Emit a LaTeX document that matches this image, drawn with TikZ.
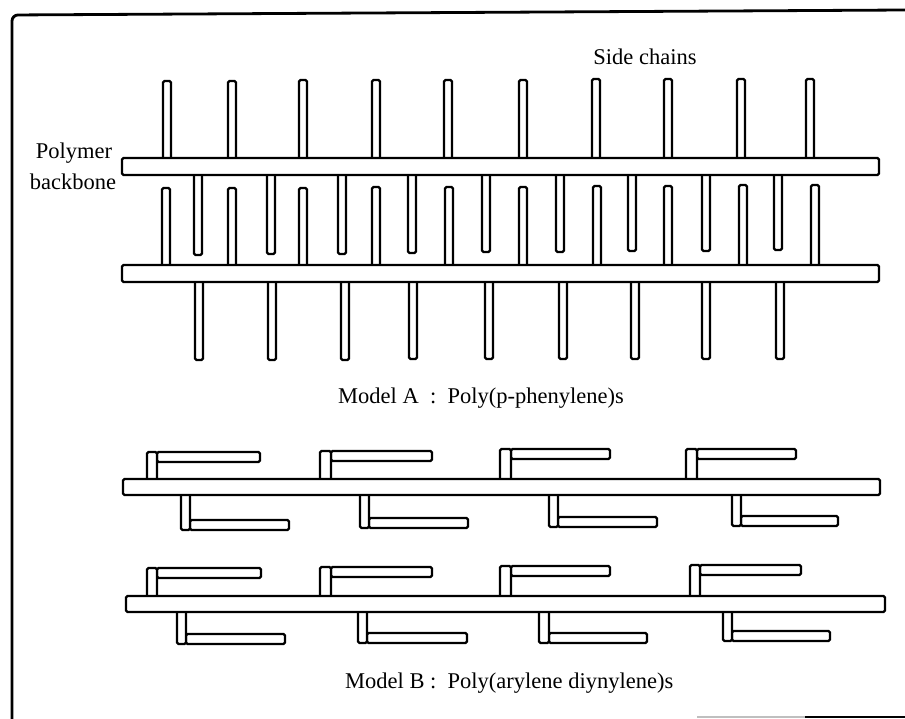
\documentclass[tikz,border=0pt]{standalone}
\usepackage{fontspec}
\setmainfont{Liberation Serif}
\usetikzlibrary{positioning}

\tikzset{
  backbone/.style={draw=black,fill=white,line width=2.4pt,rounded corners=1.5pt},
  sidechain/.style={draw=black,fill=white,line width=2.2pt,rounded corners=1.5pt},
  lbl/.style={font=\fontsize{22.5}{26}\selectfont,inner sep=0pt}
}

\begin{document}
\begin{tikzpicture}[x=1pt,y=-1pt]
\useasboundingbox (0,0) rectangle (905,719);
\draw[line width=2.8pt,rounded corners=6pt] (905,10) -- (12,15) -- (12,719);
\draw[gray!50,line width=1.5pt] (697,717) -- (805,717);
\draw[line width=2pt] (805,717) -- (905,717);

\draw[sidechain] (163,81) rectangle (171,165);
\draw[sidechain] (228,81) rectangle (236,165);
\draw[sidechain] (299,80) rectangle (307,165);
\draw[sidechain] (372,80) rectangle (380,165);
\draw[sidechain] (444,80) rectangle (452,165);
\draw[sidechain] (519,80) rectangle (527,165);
\draw[sidechain] (592,79) rectangle (600,165);
\draw[sidechain] (664,79) rectangle (672,165);
\draw[sidechain] (737,79) rectangle (745,165);
\draw[sidechain] (806,79) rectangle (814,165);

\draw[sidechain] (162,188) rectangle (170,272);
\draw[sidechain] (228,188) rectangle (236,272);
\draw[sidechain] (299,188) rectangle (307,272);
\draw[sidechain] (372,187) rectangle (380,272);
\draw[sidechain] (445,187) rectangle (453,272);
\draw[sidechain] (519,187) rectangle (527,272);
\draw[sidechain] (593,186) rectangle (601,272);
\draw[sidechain] (664,186) rectangle (672,272);
\draw[sidechain] (739,185) rectangle (747,272);
\draw[sidechain] (811,185) rectangle (819,272);

\draw[sidechain] (194,168) rectangle (202,255);
\draw[sidechain] (267,168) rectangle (275,254);
\draw[sidechain] (338,168) rectangle (346,254);
\draw[sidechain] (408,168) rectangle (416,253);
\draw[sidechain] (482,168) rectangle (490,252);
\draw[sidechain] (556,168) rectangle (564,252);
\draw[sidechain] (628,168) rectangle (636,251);
\draw[sidechain] (702,168) rectangle (710,251);
\draw[sidechain] (774,168) rectangle (782,250);

\draw[sidechain] (195,276) rectangle (203,360);
\draw[sidechain] (268,276) rectangle (276,360);
\draw[sidechain] (341,276) rectangle (349,360);
\draw[sidechain] (409,276) rectangle (417,359);
\draw[sidechain] (485,276) rectangle (493,359);
\draw[sidechain] (559,276) rectangle (567,359);
\draw[sidechain] (631,276) rectangle (639,359);
\draw[sidechain] (702,276) rectangle (710,359);
\draw[sidechain] (776,276) rectangle (784,359);

\draw[backbone] (122,158) rectangle (879,175);
\draw[backbone] (122,265) rectangle (879,282);

\node[lbl,anchor=base] (sidechains) at (645,65) {Side chains};
\node[lbl,anchor=base] (polymer) at (74,159) {Polymer};
\node[lbl,anchor=base] (bbone) at (73,190) {backbone};
\node[lbl,anchor=base west] (modelA) at (338,403) {Model A\ \ :\ \ Poly(p-phenylene)s};

\draw[sidechain] (157,452) rectangle (260,462);
\draw[sidechain] (147,452) rectangle (157,484);
\draw[sidechain] (331,451) rectangle (432,461);
\draw[sidechain] (320,451) rectangle (331,484);
\draw[sidechain] (511,449) rectangle (610,459);
\draw[sidechain] (500,449) rectangle (511,484);
\draw[sidechain] (697,449) rectangle (796,459);
\draw[sidechain] (686,449) rectangle (697,484);

\draw[sidechain] (190,520) rectangle (289,530);
\draw[sidechain] (181,490) rectangle (190,530);
\draw[sidechain] (369,518) rectangle (468,528);
\draw[sidechain] (360,490) rectangle (369,528);
\draw[sidechain] (558,517) rectangle (657,527);
\draw[sidechain] (549,490) rectangle (558,527);
\draw[sidechain] (741,516) rectangle (838,526);
\draw[sidechain] (732,490) rectangle (741,526);

\draw[backbone] (123,479) rectangle (880,495);

\draw[sidechain] (157,568) rectangle (261,578);
\draw[sidechain] (147,568) rectangle (157,600);
\draw[sidechain] (331,567) rectangle (432,577);
\draw[sidechain] (320,567) rectangle (331,600);
\draw[sidechain] (511,566) rectangle (610,576);
\draw[sidechain] (500,566) rectangle (511,600);
\draw[sidechain] (700,565) rectangle (801,575);
\draw[sidechain] (690,565) rectangle (700,600);

\draw[sidechain] (186,634) rectangle (285,644);
\draw[sidechain] (177,607) rectangle (186,644);
\draw[sidechain] (367,633) rectangle (467,643);
\draw[sidechain] (358,607) rectangle (367,643);
\draw[sidechain] (549,633) rectangle (647,643);
\draw[sidechain] (539,607) rectangle (549,643);
\draw[sidechain] (732,631) rectangle (830,641);
\draw[sidechain] (723,607) rectangle (732,641);

\draw[backbone] (126,596) rectangle (885,612);

\node[lbl,anchor=base west] (modelB) at (345,688) {Model B\ :\ \ Poly(arylene diynylene)s};

\end{tikzpicture}
\end{document}
